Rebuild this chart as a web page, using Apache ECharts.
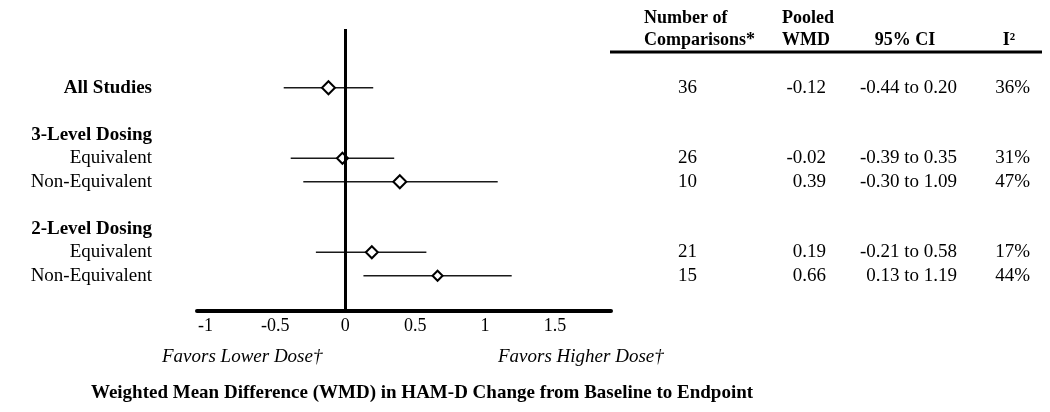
<!DOCTYPE html>
<html><head><meta charset="utf-8">
<script src="https://cdn.jsdelivr.net/npm/echarts@6/dist/echarts.min.js"></script>
<style>html,body{margin:0;padding:0;background:#fff}#c{width:1050px;height:412px}</style>
</head><body><div id="c"></div>
<script>
// ---- data ----
const rowLabels = ['', '', 'All Studies', '', '3-Level Dosing', 'Equivalent', 'Non-Equivalent', '', '2-Level Dosing', 'Equivalent', 'Non-Equivalent', ''];
const headingLabels = ['All Studies', '3-Level Dosing', '2-Level Dosing'];
const estimateRows = [2, 5, 6, 9, 10];
const pooledWMD = [-0.12, -0.02, 0.39, 0.19, 0.66];
const ciLower = [-0.44, -0.39, -0.30, -0.21, 0.13];
const ciUpper = [0.20, 0.35, 1.09, 0.58, 1.19];
const comparisons = [36, 26, 10, 21, 15];
const iSquared = [36, 31, 47, 17, 44];
const xTickValues = [-1, -0.5, 0, 0.5, 1, 1.5];
const headerLine1 = ['Number of', 'Pooled', '', ''];
const headerLine2 = ['Comparisons*', 'WMD', '95% CI', 'I²'];
const favorsLabels = ['Favors Lower Dose†', 'Favors Higher Dose†'];
const axisTitle = 'Weighted Mean Difference (WMD) in HAM-D Change from Baseline to Endpoint';

// ---- build ----
const F = '"Liberation Serif", "Times New Roman", serif';
const markerSizes = [13, 11, 13, 12, 10];

function column(fn) {
  const arr = rowLabels.map(() => '');
  estimateRows.forEach((r, i) => { arr[r] = fn(i); });
  return arr;
}
const colN = column(i => String(comparisons[i]));
const colW = column(i => pooledWMD[i].toFixed(2));
const colCI = column(i => ciLower[i].toFixed(2) + ' to ' + ciUpper[i].toFixed(2));
const colI = column(i => iSquared[i] + '%');

function tableAxis(data, margin) {
  return {
    type: 'category', data: data, inverse: true, position: 'right', gridIndex: 0,
    axisLine: { show: false }, axisTick: { show: false }, splitLine: { show: false },
    axisLabel: { interval: 0, margin: margin, align: 'right', fontSize: 19, fontFamily: F, color: '#000' }
  };
}

const chart = echarts.init(document.getElementById('c'), null, { renderer: 'canvas' });
const headerX = [644, 782, 905, 1009];
const headerAlign = ['left', 'left', 'center', 'center'];
const graphics = [];
headerLine2.forEach((t, i) => {
  if (headerLine1[i]) graphics.push({ type: 'text', x: headerX[i], y: 18, style: { text: headerLine1[i], font: 'bold 18px ' + F, fill: '#000', align: headerAlign[i], textAlign: headerAlign[i], verticalAlign: 'middle', textVerticalAlign: 'middle' } });
  graphics.push({ type: 'text', x: headerX[i], y: 40, style: { text: t, font: 'bold 18px ' + F, fill: '#000', align: headerAlign[i], textAlign: headerAlign[i], verticalAlign: 'middle', textVerticalAlign: 'middle' } });
});
graphics.push({ type: 'line', shape: { x1: 610, y1: 52, x2: 1042, y2: 52 }, style: { stroke: '#000', lineWidth: 3 } });
graphics.push({ type: 'text', x: 162, y: 357, style: { text: favorsLabels[0], font: 'italic 19px ' + F, fill: '#000', align: 'left', textAlign: 'left', verticalAlign: 'middle', textVerticalAlign: 'middle' } });
graphics.push({ type: 'text', x: 498, y: 357, style: { text: favorsLabels[1], font: 'italic 19px ' + F, fill: '#000', align: 'left', textAlign: 'left', verticalAlign: 'middle', textVerticalAlign: 'middle' } });
graphics.push({ type: 'text', x: 422, y: 393, style: { text: axisTitle, font: 'bold 19px ' + F, fill: '#000', align: 'center', textAlign: 'center', verticalAlign: 'middle', textVerticalAlign: 'middle' } });

const option = {
  animation: false,
  backgroundColor: '#fff',
  grid: { left: 197, top: 29, width: 414, height: 282, containLabel: false, outerBoundsMode: 'none' },
  xAxis: {
    type: 'value', min: -1.06, max: 1.9,
    axisLine: { show: true, lineStyle: { color: '#000', width: 4 } },
    axisTick: { show: false }, splitLine: { show: false },
    axisLabel: { customValues: xTickValues, formatter: v => String(v), fontSize: 18, fontFamily: F, color: '#000', margin: 6 }
  },
  yAxis: [
    {
      type: 'category', data: rowLabels, inverse: true, gridIndex: 0,
      axisLine: { show: false }, axisTick: { show: false }, splitLine: { show: false },
      axisLabel: {
        interval: 0, margin: 45, align: 'right',
        formatter: v => headingLabels.includes(v) ? '{b|' + v + '}' : '{n|' + v + '}',
        rich: {
          b: { fontWeight: 'bold', fontSize: 19, fontFamily: F, color: '#000' },
          n: { fontSize: 19, fontFamily: F, color: '#000' }
        }
      }
    },
    tableAxis(colN, 86),
    tableAxis(colW, 215),
    tableAxis(colCI, 346),
    tableAxis(colI, 419)
  ],
  graphic: graphics,
  series: [
    {
      type: 'custom', xAxisIndex: 0, yAxisIndex: 0, z: 2,
      data: estimateRows.map((r, i) => [r, ciLower[i], ciUpper[i]]),
      encode: { x: [1, 2], y: 0 },
      renderItem: function (params, api) {
        const y = api.value(0);
        const p1 = api.coord([api.value(1), y]);
        const p2 = api.coord([api.value(2), y]);
        return { type: 'line', shape: { x1: p1[0], y1: p1[1], x2: p2[0], y2: p2[1] }, style: { stroke: '#1a1a1a', lineWidth: 1.5 } };
      },
      markLine: {
        silent: true, symbol: ['none', 'none'], label: { show: false },
        lineStyle: { color: '#000', width: 3, type: 'solid' },
        data: [{ xAxis: 0 }]
      }
    },
    {
      type: 'scatter', xAxisIndex: 0, yAxisIndex: 0, z: 3,
      symbol: 'diamond',
      symbolSize: (val, p) => [markerSizes[p.dataIndex], markerSizes[p.dataIndex]],
      itemStyle: { color: '#fff', borderColor: '#000', borderWidth: 2, opacity: 1 },
      data: estimateRows.map((r, i) => [pooledWMD[i], r])
    }
  ]
};
chart.setOption(option);
</script>
</body></html>
